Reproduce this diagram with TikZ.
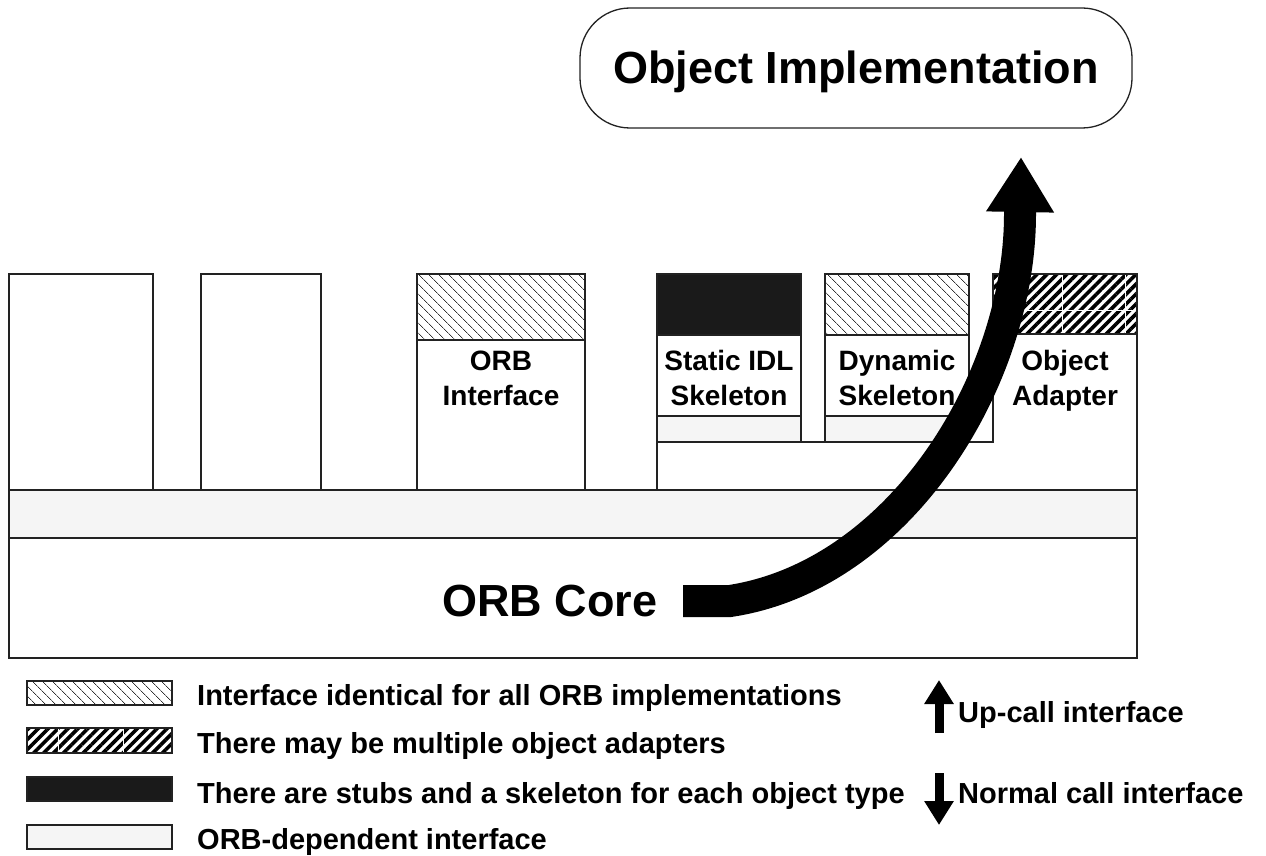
\documentclass[tikz,border=0pt]{standalone}
\usepackage{fontspec}
\setmainfont{Liberation Sans}
\usetikzlibrary{patterns.meta,arrows.meta}
\definecolor{band}{HTML}{F5F5F5}
\definecolor{edge}{HTML}{222222}
\definecolor{solid}{HTML}{1A1A1A}
\tikzset{
  box/.style={draw=edge, line width=1.3pt, fill=white},
  bandbox/.style={draw=edge, line width=1.3pt, fill=band},
  lighthatch/.style={draw=edge, line width=1.3pt, pattern={Lines[angle=-45,distance=7.4pt,line width=0.9pt]}, pattern color=black!80},
  darkhatch/.style={draw=edge, line width=1.3pt, pattern={Lines[angle=45,distance=7pt,line width=3.6pt]}, pattern color=black},
  solidbox/.style={draw=edge, line width=1.3pt, fill=solid},
  gridline/.style={draw=white, line width=1pt},
  lbl/.style={font=\bfseries\fontsize{28}{34}\selectfont, anchor=base, inner sep=0pt},
  legtxt/.style={font=\bfseries\fontsize{29}{34}\selectfont, anchor=base west, inner sep=0pt},
  big/.style={font=\bfseries\fontsize{45}{54}\selectfont, inner sep=0pt},
  callarrow/.style={line width=9pt, -{Triangle[width=28pt,length=24pt]}},
  upcall/.style={line width=32pt, line cap=butt, -{Triangle[width=64pt,length=55pt]}},
}
\begin{document}
\begin{tikzpicture}[x=1pt,y=-1pt]
\useasboundingbox (0,0) rectangle (1266,856);
% upper tall boxes
\draw[box] (9,274) rectangle (153,490);
\draw[box] (201,274) rectangle (321,490);
\draw[box] (417,274) rectangle (585,490);
\draw[lighthatch] (417,274) rectangle (585,340);
% object adapter + skeleton base
\draw[box] (993,274) -- (1137,274) -- (1137,490) -- (657,490) -- (657,442) -- (993,442) -- cycle;
\draw[darkhatch] (993,274) rectangle (1137,334);
\draw[gridline] (1062,275) -- (1062,333);
\draw[gridline] (1125,275) -- (1125,333);
\draw[gridline] (994,310) -- (1136,310);
% static IDL skeleton
\draw[box] (657,274) rectangle (801,442);
\draw[solidbox] (657,274) rectangle (801,335);
\draw[bandbox] (657,416) rectangle (801,442);
% dynamic skeleton
\draw[box] (825,274) rectangle (969,442);
\draw[lighthatch] (825,274) rectangle (969,335);
\draw[bandbox] (825,416) rectangle (969,442);
% band and core
\draw[bandbox] (9,490) rectangle (1137,538);
\draw[box] (9,538) rectangle (1137,658);
% labels
\node[lbl] (orbA) at (501,370) {ORB};
\node[lbl] (orbB) at (501,405) {Interface};
\node[lbl] (statA) at (729,370) {Static IDL};
\node[lbl] (statB) at (729,405) {Skeleton};
\node[lbl] (dynA) at (897,370) {Dynamic};
\node[lbl] (dynB) at (897,405) {Skeleton};
\node[lbl] (oaA) at (1065,370) {Object};
\node[lbl] (oaB) at (1065,405) {Adapter};
\node[big, anchor=base] (core) at (550,616) {ORB Core};
% object implementation
\draw[draw=edge, line width=1.3pt, rounded corners=50pt] (580,8) rectangle (1132,128);
\node[big, anchor=base] (impl) at (856,84) {Object Implementation};
% big up-call arrow
\coordinate (arrS) at (683,601);
\coordinate (arrM) at (730,601);
\coordinate (arrC) at (1020,214);
\coordinate (arrE) at (1021,157);
\draw[upcall] (arrS) -- (arrM) .. controls (900,575) and (1020,380) .. (arrC) -- (arrE);
% legend
\draw[lighthatch] (27,681) rectangle (172,705);
\draw[darkhatch] (27,728) rectangle (172,753);
\draw[gridline] (58,729) -- (58,752);
\draw[gridline] (123,729) -- (123,752);
\draw[solidbox] (27,777) rectangle (172,801);
\draw[bandbox] (27,825) rectangle (172,849);
\node[legtxt] (leg1) at (197,705) {Interface identical for all ORB implementations};
\node[legtxt] (leg2) at (197,753) {There may be multiple object adapters};
\node[legtxt] (leg3) at (197,803) {There are stubs and a skeleton for each object type};
\node[legtxt] (leg4) at (197,849) {ORB-dependent interface};
\coordinate (upS) at (939,733);
\coordinate (upE) at (939,680);
\coordinate (dnS) at (939,773);
\coordinate (dnE) at (939,825);
\draw[callarrow] (upS) -- (upE);
\draw[callarrow] (dnS) -- (dnE);
\node[legtxt] (upT) at (958,722) {Up-call interface};
\node[legtxt] (dnT) at (958,803) {Normal call interface};
\end{tikzpicture}
\end{document}
